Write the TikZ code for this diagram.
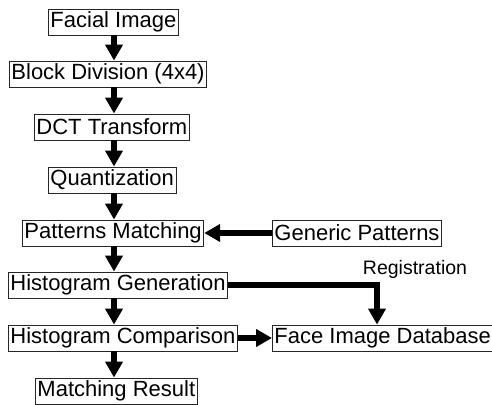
\documentclass[tikz,border=0pt]{standalone}
\usepackage{fontspec}
\setmainfont{Liberation Sans}
\usetikzlibrary{arrows.meta}

\begin{document}
\begin{tikzpicture}[
    x=1pt, y=-1pt,
    every node/.style={font=\fontsize{22}{24}\selectfont},
    box/.style={draw=black!85, line width=0.9pt, anchor=west, inner xsep=2pt, inner ysep=0pt, minimum height=26pt},
    flow/.style={line width=5.5pt, -{Triangle[width=17pt, length=16pt]}},
]
  \useasboundingbox (0,0) rectangle (492,404);
  \coordinate (spine) at (114,0);

  \node [box]   (facial)   at  (48, 22 )  {Facial Image};
  \node [box]   (block)    at  (9,  74 )  {Block Division (4x4)};
  \node [box]   (dct)      at  (34, 127)  {DCT Transform};
  \node [box]   (quant)    at  (48, 180)  {Quantization};
  \node [box]   (patterns) at  (22, 233)  {Patterns Matching};
  \node [box]   (histgen)  at  (8,  285)  {Histogram Generation};
  \node [box]   (histcomp) at  (8,  338)  {Histogram Comparison};
  \node [box]   (result)   at  (35, 391)  {Matching Result};
  \node [box]   (generic)  at  (272,233)  {Generic Patterns};
  \node [box]   (db)       at  (272,338)  {Face Image Database\,};
  \node [font=\fontsize{19.5}{22}\selectfont]
                (reg)      at  (415,269)  {Registration};
  \coordinate   (bend)     at  (377,285);

  \draw [flow]  (facial.south -| spine)   --  (block.north -| spine);
  \draw [flow]  (block.south -| spine)    --  (dct.north -| spine);
  \draw [flow]  (dct.south -| spine)      --  (quant.north -| spine);
  \draw [flow]  (quant.south -| spine)    --  (patterns.north -| spine);
  \draw [flow]  (patterns.south -| spine) --  (histgen.north -| spine);
  \draw [flow]  (histgen.south -| spine)  --  (histcomp.north -| spine);
  \draw [flow]  (histcomp.south -| spine) --  (result.north -| spine);
  \draw [flow]  (generic.west)            --  (patterns.east);
  \draw [flow]  (histcomp.east)           --  (db.west);
  \draw [flow]  (histgen.east) -- (bend)  --  (bend |- db.north);
\end{tikzpicture}
\end{document}
